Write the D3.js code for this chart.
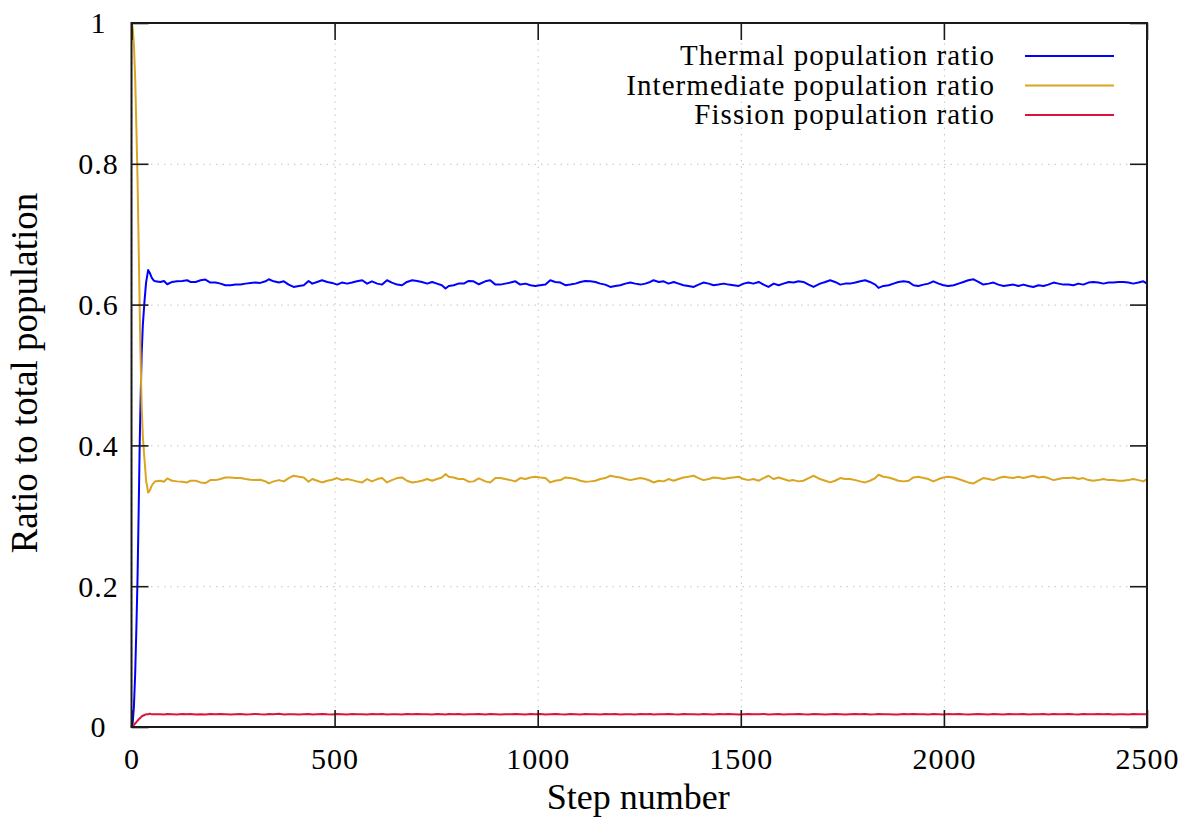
<!DOCTYPE html>
<html>
<head>
<meta charset="utf-8">
<script src="https://cdn.jsdelivr.net/npm/d3@7"></script>
<style>
  body { margin: 0; background: #fff; }
  svg text { font-family: "Liberation Serif", "DejaVu Serif", "Times New Roman", serif !important; fill: #000; }
</style>
</head>
<body>
<div id="chart"></div>
<script>
// tick labels
var xTicks = [0, 500, 1000, 1500, 2000, 2500];
var yTicks = [0, 0.2, 0.4, 0.6, 0.8, 1];

// step numbers (shared x for every series)
var steps = [0, 3, 6, 9, 12, 15, 18, 20, 22, 25, 28, 32, 36, 41, 45, 50, 55, 59,
  71, 80, 88, 100, 112, 125, 137, 145, 158, 170,
  182, 194, 207, 219, 231, 244, 256, 268, 281, 293,
  305, 317, 330, 338, 350, 363, 375, 387, 399, 412,
  424, 436, 445, 457, 469, 482, 494, 506, 518, 531,
  543, 555, 568, 580, 592, 605, 617, 629, 641, 654,
  666, 678, 691, 703, 715, 728, 740, 752, 764, 773,
  781, 793, 805, 818, 830, 842, 855, 871, 883, 896,
  908, 920, 933, 945, 957, 970, 982, 994, 1006, 1019,
  1031, 1043, 1056, 1068, 1080, 1093, 1105, 1117, 1130, 1142,
  1154, 1166, 1179, 1191, 1203, 1216, 1228, 1240, 1253, 1265,
  1277, 1285, 1298, 1310, 1322, 1335, 1347, 1359, 1371, 1384,
  1396, 1408, 1421, 1433, 1445, 1458, 1470, 1482, 1495, 1507,
  1519, 1531, 1544, 1556, 1568, 1581, 1593, 1605, 1618, 1630,
  1642, 1654, 1667, 1679, 1695, 1708, 1720, 1732, 1745, 1757,
  1769, 1782, 1794, 1806, 1818, 1831, 1839, 1851, 1864, 1876,
  1888, 1901, 1913, 1925, 1937, 1950, 1962, 1974, 1987, 1999,
  2011, 2024, 2036, 2048, 2060, 2073, 2085, 2097, 2110, 2122,
  2134, 2147, 2159, 2171, 2183, 2196, 2208, 2220, 2233, 2245,
  2257, 2270, 2282, 2294, 2307, 2319, 2331, 2343, 2356, 2368,
  2380, 2393, 2405, 2417, 2430, 2442, 2454, 2466, 2479, 2491,
  2500];

var thermal = [0, 0.006, 0.030, 0.075, 0.140, 0.215, 0.320, 0.395, 0.455, 0.530, 0.572, 0.605, 0.632, 0.649, 0.645, 0.638, 0.634, 0.633,
  .6322, .6336, .6289, .6322, .6331, .6336, .6346, .6322, .6322, .6346,
  .6355, .6313, .6313, .6298, .6275, .6275, .6284, .6284, .6298, .6308,
  .6313, .6308, .6331, .6360, .6331, .6313, .6331, .6284, .6251, .6265,
  .6275, .6336, .6298, .6322, .6346, .6322, .6308, .6284, .6313, .6298,
  .6313, .6331, .6346, .6298, .6331, .6298, .6284, .6346, .6313, .6284,
  .6275, .6322, .6346, .6336, .6322, .6298, .6322, .6298, .6275, .6228,
  .6265, .6275, .6298, .6298, .6336, .6331, .6289, .6331, .6346, .6284,
  .6284, .6298, .6313, .6331, .6284, .6298, .6275, .6265, .6275, .6284,
  .6346, .6322, .6313, .6275, .6284, .6298, .6322, .6336, .6331, .6322,
  .6298, .6284, .6251, .6265, .6275, .6298, .6313, .6298, .6284, .6298,
  .6322, .6346, .6322, .6331, .6298, .6322, .6298, .6275, .6265, .6251,
  .6284, .6313, .6298, .6275, .6284, .6298, .6284, .6275, .6265, .6298,
  .6313, .6298, .6322, .6284, .6251, .6298, .6275, .6298, .6322, .6313,
  .6331, .6322, .6284, .6251, .6298, .6322, .6346, .6322, .6284, .6298,
  .6298, .6313, .6331, .6346, .6322, .6284, .6237, .6265, .6275, .6298,
  .6322, .6331, .6322, .6275, .6265, .6284, .6298, .6331, .6298, .6275,
  .6265, .6275, .6298, .6322, .6346, .6360, .6322, .6284, .6298, .6313,
  .6284, .6265, .6275, .6284, .6265, .6284, .6265, .6251, .6275, .6265,
  .6284, .6313, .6298, .6284, .6284, .6275, .6298, .6284, .6313, .6322,
  .6313, .6298, .6313, .6313, .6322, .6322, .6313, .6298, .6313, .6331,
  .6298];

var intermediate = [1.000, 0.993, 0.968, 0.922, 0.852, 0.775, 0.670, 0.600, 0.535, 0.455, 0.412, 0.380, 0.350, 0.333, 0.336, 0.343, 0.347, 0.349,
  .3498, .3484, .3531, .3498, .3489, .3484, .3474, .3498, .3498, .3474,
  .3465, .3507, .3507, .3522, .3545, .3545, .3536, .3536, .3522, .3512,
  .3507, .3512, .3489, .3460, .3489, .3507, .3489, .3536, .3569, .3555,
  .3545, .3484, .3522, .3498, .3474, .3498, .3512, .3536, .3507, .3522,
  .3507, .3489, .3474, .3522, .3489, .3522, .3536, .3474, .3507, .3536,
  .3545, .3498, .3474, .3484, .3498, .3522, .3498, .3522, .3545, .3592,
  .3555, .3545, .3522, .3522, .3484, .3489, .3531, .3489, .3474, .3536,
  .3536, .3522, .3507, .3489, .3536, .3522, .3545, .3555, .3545, .3536,
  .3474, .3498, .3507, .3545, .3536, .3522, .3498, .3484, .3489, .3498,
  .3522, .3536, .3569, .3555, .3545, .3522, .3507, .3522, .3536, .3522,
  .3498, .3474, .3498, .3489, .3522, .3498, .3522, .3545, .3555, .3569,
  .3536, .3507, .3522, .3545, .3536, .3522, .3536, .3545, .3555, .3522,
  .3507, .3522, .3498, .3536, .3569, .3522, .3545, .3522, .3498, .3507,
  .3489, .3498, .3536, .3569, .3522, .3498, .3474, .3498, .3536, .3522,
  .3522, .3507, .3489, .3474, .3498, .3536, .3583, .3555, .3545, .3522,
  .3498, .3489, .3498, .3545, .3555, .3536, .3522, .3489, .3522, .3545,
  .3555, .3545, .3522, .3498, .3474, .3460, .3498, .3536, .3522, .3507,
  .3536, .3555, .3545, .3536, .3555, .3536, .3555, .3569, .3545, .3555,
  .3536, .3507, .3522, .3536, .3536, .3545, .3522, .3536, .3507, .3498,
  .3507, .3522, .3507, .3507, .3498, .3498, .3507, .3522, .3507, .3489,
  .3522];

var fission = [0, 0.001, 0.003, 0.005, 0.007, 0.009, 0.011, 0.012, 0.013, 0.015, 0.016, 0.017, 0.018, 0.018, 0.019, 0.018, 0.018, 0.018,
  .0182, .0179, .0184, .0180, .0177, .0183, .0181, .0186, .0179, .0182,
  .0178, .0183, .0180, .0185, .0181, .0177, .0182, .0184, .0179, .0181,
  .0185, .0180, .0178, .0183, .0181, .0187, .0179, .0182, .0180, .0176,
  .0181, .0184, .0179, .0182, .0186, .0180, .0178, .0183, .0181, .0179,
  .0184, .0180, .0182, .0177, .0183, .0181, .0185, .0179, .0182, .0180,
  .0178, .0183, .0181, .0186, .0180, .0182, .0177, .0184, .0181, .0179,
  .0183, .0180, .0185, .0178, .0182, .0181, .0184, .0179, .0183, .0180,
  .0176, .0182, .0180, .0185, .0181, .0178, .0183, .0180, .0184, .0179,
  .0182, .0186, .0180, .0177, .0183, .0181, .0179, .0184, .0180, .0182,
  .0178, .0183, .0181, .0185, .0179, .0182, .0180, .0176, .0183, .0181,
  .0184, .0179, .0182, .0180, .0186, .0181, .0178, .0183, .0180, .0182,
  .0179, .0184, .0181, .0177, .0183, .0180, .0185, .0182, .0178, .0181,
  .0183, .0180, .0182, .0186, .0179, .0181, .0184, .0178, .0182, .0180,
  .0185, .0181, .0179, .0183, .0180, .0177, .0182, .0184, .0181, .0179,
  .0182, .0186, .0180, .0183, .0178, .0181, .0184, .0180, .0182, .0179,
  .0177, .0183, .0181, .0185, .0180, .0182, .0179, .0184, .0181, .0178,
  .0183, .0180, .0186, .0181, .0179, .0182, .0184, .0180, .0177, .0183,
  .0181, .0179, .0184, .0182, .0180, .0185, .0178, .0182, .0181, .0183,
  .0179, .0184, .0180, .0182, .0186, .0181, .0178, .0183, .0180, .0182,
  .0185, .0180, .0183, .0179, .0182, .0181, .0177, .0184, .0180, .0182,
  .0181];

var seriesNames = ["Thermal population ratio", "Intermediate population ratio", "Fission population ratio"];
var seriesColors = ["#0000ff", "#daa520", "#dc143c"];
var seriesValues = [thermal, intermediate, fission];

var serif = "'Liberation Serif', 'DejaVu Serif', 'Times New Roman', serif";

var margin = {top: 23, right: 42, bottom: 90, left: 131.5},
  width = 1189 - margin.left - margin.right,
  height = 817 - margin.top - margin.bottom;

var x = d3.scaleLinear().domain([0, 2500]).range([0, width]);
var y = d3.scaleLinear().domain([0, 1]).range([height, 0]);

var svg = d3.select("#chart").append("svg")
  .attr("width", width + margin.left + margin.right)
  .attr("height", height + margin.top + margin.bottom)
  .attr("font-family", serif)
  .append("g")
  .attr("transform", "translate(" + margin.left + "," + margin.top + ")");

// dotted grid
var gx = svg.append("g")
  .attr("transform", "translate(0," + height + ")")
  .call(d3.axisBottom(x).tickValues(xTicks).tickSize(-height).tickFormat(""));
var gy = svg.append("g")
  .call(d3.axisLeft(y).tickValues(yTicks).tickSize(-width).tickFormat(""));
[gx, gy].forEach(function(g) {
  g.select(".domain").remove();
  g.selectAll("line")
    .attr("stroke", "#c4c4c4")
    .attr("stroke-width", 1)
    .attr("stroke-dasharray", "1.5,5");
});

// series
var line = d3.line()
  .x(function(d) { return x(d[0]); })
  .y(function(d) { return y(d[1]); });

seriesValues.forEach(function(vals, i) {
  var pts = steps.map(function(s, j) { return [s, vals[j]]; });
  svg.append("path")
    .datum(pts)
    .attr("fill", "none")
    .attr("stroke", seriesColors[i])
    .attr("stroke-width", 2)
    .attr("stroke-linejoin", "round")
    .attr("d", line);
});

// axes with inward ticks, mirrored on top/right
var tickLen = 17;
var axB = svg.append("g")
  .attr("transform", "translate(0," + height + ")")
  .call(d3.axisBottom(x).tickValues(xTicks).tickSize(-tickLen).tickFormat(d3.format("d")));
var axL = svg.append("g")
  .call(d3.axisLeft(y).tickValues(yTicks).tickSize(-tickLen).tickFormat(d3.format("~g")));
var axT = svg.append("g")
  .call(d3.axisTop(x).tickValues(xTicks).tickSize(-tickLen).tickFormat(""));
var axR = svg.append("g")
  .attr("transform", "translate(" + width + ",0)")
  .call(d3.axisRight(y).tickValues(yTicks).tickSize(-tickLen).tickFormat(""));

[axB, axL, axT, axR].forEach(function(g) {
  g.attr("font-family", serif);
  g.select(".domain").remove();
  g.selectAll("line").attr("stroke", "#1a1a1a").attr("stroke-width", 1.6);
});

axB.selectAll("text")
  .attr("y", 42)
  .attr("dy", 0)
  .attr("font-size", 30)
  .attr("letter-spacing", 1);
axL.selectAll("text")
  .attr("x", -33)
  .attr("dy", "0.33em")
  .attr("text-anchor", "middle")
  .attr("font-size", 30)
  .attr("letter-spacing", 1);

// frame
svg.append("rect")
  .attr("width", width)
  .attr("height", height)
  .attr("fill", "none")
  .attr("stroke", "#1a1a1a")
  .attr("stroke-width", 2);

// axis titles
svg.append("text")
  .attr("x", x(1250) - 1)
  .attr("y", height + 82)
  .attr("text-anchor", "middle")
  .attr("font-size", 36)
  .text("Step number");

svg.append("text")
  .attr("transform", "translate(" + (37 - margin.left) + "," + (y(0.5) - 2) + ") rotate(-90)")
  .attr("text-anchor", "middle")
  .attr("font-size", 37)
  .text("Ratio to total population");

// legend
var legend = svg.append("g")
  .attr("transform", "translate(" + (995 - margin.left) + "," + (56 - margin.top) + ")");
seriesNames.forEach(function(name, i) {
  legend.append("text")
    .attr("x", 0)
    .attr("y", i * 29.5 + 9)
    .attr("text-anchor", "end")
    .attr("font-size", 29)
    .attr("letter-spacing", 1.05)
    .text(name);
  legend.append("line")
    .attr("x1", 30).attr("x2", 119)
    .attr("y1", i * 29.5).attr("y2", i * 29.5)
    .attr("stroke", seriesColors[i])
    .attr("stroke-width", 2);
});
</script>
</body>
</html>
